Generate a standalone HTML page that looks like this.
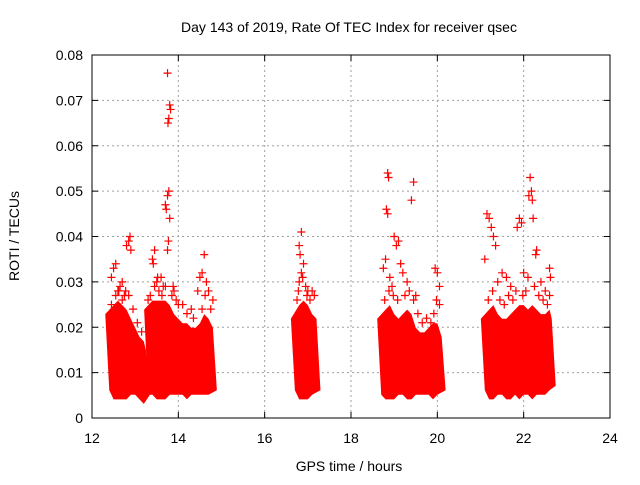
<!DOCTYPE html>
<html><head><meta charset="utf-8"><style>
body{margin:0;background:#fff}
svg text{font-family:"Liberation Sans",sans-serif;font-size:14px;fill:#000}
</style></head><body>
<svg id="chart" width="640" height="480" viewBox="0 0 640 480" xmlns="http://www.w3.org/2000/svg">
<rect x="0" y="0" width="640" height="480" fill="#fff"/>
<text x="349" y="32" text-anchor="middle">Day 143 of 2019, Rate Of TEC Index for receiver qsec</text>
<g id="grid"></g>
<g id="marks"></g>
<rect x="92" y="55" width="518" height="363" fill="none" stroke="#000" stroke-width="1"/>
<g id="ticks"></g>
<text x="349" y="471" text-anchor="middle">GPS time / hours</text>
<text x="19" y="236" text-anchor="middle" transform="rotate(-90 19 236)">ROTI / TECUs</text>
</svg>
<script>
const xTicks=[12,14,16,18,20,22,24];
const yTicks=[0,0.01,0.02,0.03,0.04,0.05,0.06,0.07,0.08];
const yTickLabels=["0","0.01","0.02","0.03","0.04","0.05","0.06","0.07","0.08"];
const band1T=[12.40,12.5,12.6,12.7,12.8,12.9,13.0,13.1,13.2,13.25];
const band1Lo=[0.007,0.005,0.005,0.005,0.005,0.006,0.006,0.005,0.004,0.006];
const band1Hi=[0.022,0.024,0.025,0.024,0.023,0.021,0.019,0.017,0.016,0.014];
const band2T=[13.3,13.4,13.5,13.6,13.7,13.8,13.9,14.0,14.1,14.2,14.3,14.4,14.5,14.6,14.7,14.8];
const band2Lo=[0.006,0.006,0.005,0.005,0.005,0.006,0.006,0.006,0.006,0.005,0.006,0.006,0.006,0.006,0.006,0.007];
const band2Hi=[0.023,0.025,0.025,0.025,0.025,0.024,0.022,0.021,0.020,0.020,0.019,0.019,0.020,0.022,0.021,0.019];
const band3T=[16.7,16.8,16.9,17.0,17.1,17.2];
const band3Lo=[0.007,0.005,0.005,0.005,0.006,0.007];
const band3Hi=[0.021,0.024,0.025,0.024,0.022,0.021];
const band4T=[18.7,18.8,18.9,19.0,19.1,19.2,19.3,19.4,19.5,19.6,19.7,19.8,19.9,20.0,20.1];
const band4Lo=[0.006,0.005,0.005,0.005,0.006,0.006,0.005,0.005,0.006,0.006,0.006,0.006,0.005,0.006,0.007];
const band4Hi=[0.021,0.023,0.024,0.022,0.021,0.022,0.023,0.022,0.019,0.018,0.018,0.019,0.020,0.020,0.017];
const band5T=[21.1,21.2,21.3,21.4,21.5,21.6,21.7,21.8,21.9,22.0,22.1,22.2,22.3,22.4,22.5,22.6,22.65];
const band5Lo=[0.007,0.005,0.005,0.006,0.006,0.005,0.005,0.006,0.005,0.006,0.006,0.005,0.006,0.006,0.006,0.007,0.008];
const band5Hi=[0.021,0.023,0.024,0.022,0.021,0.021,0.022,0.023,0.024,0.024,0.023,0.024,0.023,0.022,0.022,0.023,0.021];
const ptT=[13.75,13.8,13.82,13.78,13.76,13.7,13.72,13.75,13.78,13.8,13.77,13.75,12.85,12.8,12.88,12.9,12.55,12.5,12.45,12.65,12.7,13.45,13.4,13.42,13.6,13.88,13.9,14.6,14.55,14.5,14.65,14.7,14.45,14.8,12.6,12.75,13.5,13.65,13.95,14.3,14.1,
12.45,12.55,12.62,12.7,12.78,12.85,12.95,13.05,13.15,13.35,13.45,13.55,13.62,13.7,13.85,14.0,14.2,14.35,14.55,14.62,14.75,13.3,13.52,
16.85,16.8,16.82,16.9,16.85,16.8,17.1,17.15,16.75,16.95,17.0,16.78,16.88,16.98,17.05,
18.85,18.87,18.82,18.85,19.0,19.1,19.05,19.4,19.45,18.8,18.75,18.9,19.2,19.3,19.95,20.0,20.05,19.98,20.05,19.15,19.5,18.95,
18.78,18.88,18.98,19.08,19.25,19.35,19.45,19.55,19.65,19.75,19.85,19.92,
21.15,21.2,21.25,21.3,21.35,21.1,21.85,21.9,21.95,22.15,22.18,22.2,22.12,22.22,22.3,22.28,22.6,22.62,21.5,21.6,22.0,22.1,22.4,21.7,22.5,21.4,
21.18,21.28,21.45,21.55,21.65,21.75,21.82,21.98,22.05,22.25,22.35,22.45,22.55,22.6];
const ptV=[0.076,0.069,0.068,0.066,0.065,0.047,0.046,0.049,0.050,0.044,0.039,0.037,0.039,0.038,0.040,0.037,0.034,0.033,0.031,0.029,0.030,0.037,0.035,0.034,0.031,0.029,0.028,0.036,0.032,0.031,0.030,0.028,0.028,0.026,0.028,0.027,0.030,0.029,0.026,0.024,0.025,
0.025,0.027,0.028,0.026,0.028,0.027,0.024,0.021,0.019,0.027,0.029,0.028,0.027,0.029,0.027,0.025,0.023,0.022,0.024,0.027,0.024,0.026,0.031,
0.041,0.038,0.036,0.034,0.032,0.030,0.028,0.027,0.026,0.029,0.028,0.028,0.031,0.027,0.026,
0.054,0.053,0.046,0.045,0.040,0.039,0.038,0.048,0.052,0.035,0.033,0.031,0.032,0.030,0.033,0.032,0.029,0.026,0.025,0.034,0.027,0.029,
0.026,0.028,0.027,0.026,0.027,0.028,0.026,0.023,0.021,0.022,0.021,0.023,
0.045,0.044,0.042,0.040,0.038,0.035,0.042,0.044,0.043,0.053,0.050,0.048,0.049,0.044,0.037,0.036,0.033,0.031,0.032,0.031,0.032,0.031,0.030,0.029,0.028,0.030,
0.026,0.028,0.026,0.025,0.027,0.026,0.028,0.027,0.028,0.029,0.027,0.026,0.025,0.027];
const NS="http://www.w3.org/2000/svg";
const X0=92,X1=610,Y0=418,Y1=55;
const xs=h=>X0+(h-12)/12*(X1-X0);
const ys=v=>Y0-v/0.08*(Y0-Y1);
function mk(tag,attrs,parent){const e=document.createElementNS(NS,tag);for(const k in attrs)e.setAttribute(k,attrs[k]);parent.appendChild(e);return e;}
const grid=document.getElementById('grid'),ticks=document.getElementById('ticks'),marks=document.getElementById('marks');
xTicks.forEach((t,i)=>{const x=xs(t);
 if(i>0&&i<xTicks.length-1){const g=mk('line',{x1:x,x2:x,y1:Y1,y2:Y0,stroke:'#a0a0a0','stroke-dasharray':'2,3'},grid);
 
 }
 mk('line',{x1:x,x2:x,y1:Y0,y2:Y0-6,stroke:'#000'},ticks);mk('line',{x1:x,x2:x,y1:Y1,y2:Y1+6,stroke:'#000'},ticks);
 const l=mk('text',{x:x,y:443,'text-anchor':'middle'},ticks);l.textContent=t;
 
 });
yTicks.forEach((t,i)=>{const y=ys(t);
 if(i>0&&i<yTicks.length-1){const g=mk('line',{x1:X0,x2:X1,y1:y,y2:y,stroke:'#a0a0a0','stroke-dasharray':'2,3'},grid);
 
 }
 mk('line',{x1:X0,x2:X0+6,y1:y,y2:y,stroke:'#000'},ticks);mk('line',{x1:X1,x2:X1-6,y1:y,y2:y,stroke:'#000'},ticks);
 const l=mk('text',{x:83,y:y+5,'text-anchor':'end'},ticks);l.textContent=yTickLabels[i];
 
 });
function band(T,Lo,Hi){let d='';
 T.forEach((t,i)=>{d+=(i?'L':'M')+(xs(t)+(i==0?-4:0))+','+(ys(Hi[i])-4)});
 for(let i=T.length-1;i>=0;i--)d+='L'+(xs(T[i])+(i==T.length-1?4:0))+','+(ys(Lo[i])+4);
 const p=mk('path',{d:d+'Z',fill:'#ff0000'},marks);
 
 }
band(band1T,band1Lo,band1Hi);band(band2T,band2Lo,band2Hi);band(band3T,band3Lo,band3Hi);band(band4T,band4Lo,band4Hi);band(band5T,band5Lo,band5Hi);
ptT.forEach((t,i)=>{const x=xs(t),y=ys(ptV[i]);
 const p=mk('path',{d:`M${x-4},${y}H${x+4}M${x},${y-4}V${y+4}`,stroke:'#ff0000','stroke-width':1.2},marks);
 
 });
</script>
</body></html>
